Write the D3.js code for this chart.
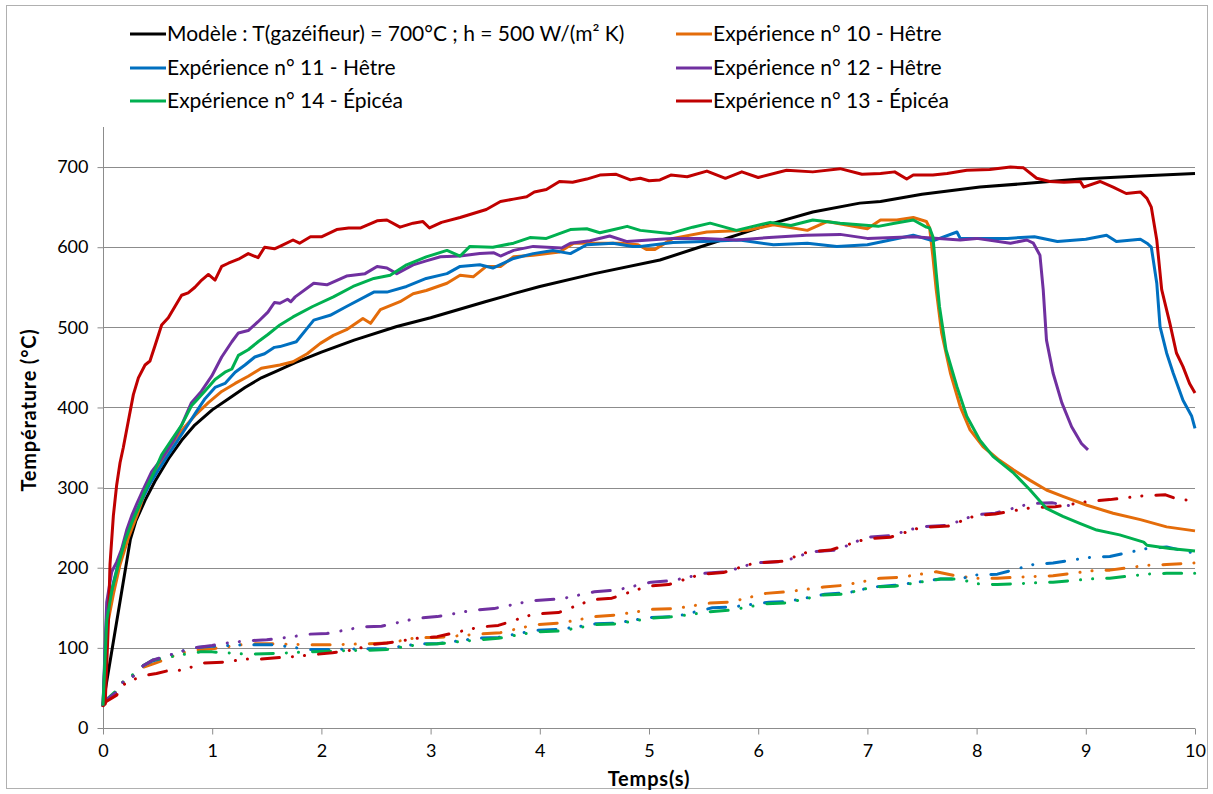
<!DOCTYPE html>
<html>
<head>
<meta charset="utf-8">
<script src="https://cdn.jsdelivr.net/npm/d3@7"></script>
<style>
  html, body { margin: 0; padding: 0; background: #fff; }
  svg { display: block; }
  text { font-family: Lato, "Open Sans", "DejaVu Sans", sans-serif; fill: #000; }
</style>
</head>
<body>
<svg id="chart" width="1213" height="794"></svg>
<script>
// ---------------- DATA ----------------
const xTicks = [0,1,2,3,4,5,6,7,8,9,10];
const yTicks = [0,100,200,300,400,500,600,700];

const legendLabels = [
  "Modèle : T(gazéifieur) = 700°C ; h = 500 W/(m² K)",
  "Expérience n° 10 - Hêtre",
  "Expérience n° 11 - Hêtre",
  "Expérience n° 12 - Hêtre",
  "Expérience n° 14 - Épicéa",
  "Expérience n° 13 - Épicéa"
];

// Model curve [time s, temperature °C]
const model = [[0,30],[0.25,235],[0.3,258],[0.385,284],[0.476,308],[0.6,336],[0.72,359],[0.84,378],[1.0,397],[1.15,411],[1.3,425],[1.45,437],[1.6,446],[1.76,456],[2.0,469],[2.3,484],[2.69,501],[3.0,512],[3.5,532],[3.76,542],[4.0,551],[4.5,567],[5.1,584],[5.53,603],[6.14,630],[6.5,644],[6.93,655],[7.12,657],[7.5,666],[8.03,675],[8.5,680],[8.95,685],[9.5,689],[10,692]];

// Experiment 10 (Hêtre) - upper curve
const exp10 = [[0,28],[0.034,124],[0.095,167],[0.156,204],[0.232,237],[0.31,265],[0.385,294],[0.476,317],[0.568,341],[0.66,360],[0.75,376],[0.842,390],[0.965,406],[1.087,420],[1.21,430],[1.33,439],[1.45,449],[1.62,453],[1.74,457],[1.87,467],[1.99,480],[2.11,490],[2.23,497],[2.38,511],[2.45,505],[2.54,522],[2.72,532],[2.84,542],[2.96,546],[3.15,555],[3.27,565],[3.39,563],[3.51,576],[3.64,576],[3.76,588],[3.94,590],[4.18,594],[4.31,605],[4.55,605],[4.74,605],[4.9,603],[4.98,597],[5.05,597],[5.22,611],[5.53,619],[5.9,621],[6.14,628],[6.45,621],[6.63,632],[7.0,623],[7.12,634],[7.27,634],[7.42,637],[7.54,632],[7.57,624],[7.6,588],[7.63,547],[7.68,493],[7.76,443],[7.85,401],[7.94,372],[8.06,351],[8.21,334],[8.34,322],[8.49,309],[8.64,297],[8.79,289],[9.01,278],[9.25,268],[9.5,260],[9.74,251],[10,246]];

// Experiment 11 (Hêtre) - upper curve
const exp11 = [[0,28],[0.034,143],[0.095,181],[0.156,214],[0.217,242],[0.278,263],[0.354,284],[0.43,305],[0.507,322],[0.583,338],[0.675,357],[0.766,376],[0.842,392],[0.934,411],[1.026,425],[1.117,430],[1.21,444],[1.3,453],[1.39,463],[1.48,467],[1.57,475],[1.62,476],[1.77,482],[1.93,509],[2.08,515],[2.23,526],[2.48,544],[2.6,544],[2.78,551],[2.96,561],[3.15,567],[3.27,576],[3.45,578],[3.57,574],[3.76,586],[3.94,592],[4.12,596],[4.28,592],[4.43,603],[4.67,605],[4.85,601],[4.92,601],[5.22,606],[5.5,607],[5.83,609],[6.14,603],[6.45,605],[6.72,601],[7.0,603],[7.42,615],[7.6,608],[7.82,619],[7.85,611],[8.28,611],[8.53,613],[8.74,607],[9.0,610],[9.19,615],[9.28,607],[9.5,610],[9.56,605],[9.6,600],[9.65,555],[9.68,501],[9.74,468],[9.8,443],[9.89,409],[9.97,389],[10,374]];

// Experiment 12 (Hêtre) - upper curve
const exp12 = [[0,28],[0.034,157],[0.08,195],[0.125,207],[0.17,223],[0.217,247],[0.263,265],[0.31,280],[0.37,298],[0.446,320],[0.537,336],[0.63,355],[0.72,378],[0.81,406],[0.9,420],[0.995,439],[1.087,463],[1.18,482],[1.24,493],[1.33,496],[1.42,507],[1.51,519],[1.57,531],[1.62,530],[1.69,535],[1.72,532],[1.76,538],[1.93,555],[2.05,553],[2.23,564],[2.4,567],[2.51,576],[2.6,574],[2.69,567],[2.84,578],[2.96,583],[3.09,588],[3.27,589],[3.45,592],[3.58,593],[3.64,589],[3.76,596],[3.94,601],[4.2,599],[4.28,605],[4.46,608],[4.64,614],[4.8,607],[5.1,610],[5.22,611],[5.5,611],[5.8,609],[6.1,612],[6.44,615],[6.75,616],[7.0,611],[7.42,613],[7.85,609],[8.0,611],[8.31,605],[8.46,609],[8.52,605],[8.58,590],[8.61,547],[8.64,484],[8.70,443],[8.78,406],[8.87,376],[8.96,355],[9.02,347]];

// Experiment 13 (Épicéa) - upper curve
const exp13 = [[0,28],[0.02,30],[0.05,134],[0.064,204],[0.095,265],[0.125,303],[0.156,331],[0.186,350],[0.232,383],[0.278,416],[0.324,437],[0.385,453],[0.43,458],[0.476,477],[0.537,503],[0.598,512],[0.659,526],[0.72,540],[0.78,543],[0.842,550],[0.904,559],[0.965,566],[1.026,559],[1.087,576],[1.148,580],[1.24,585],[1.33,592],[1.42,587],[1.48,600],[1.57,598],[1.62,601],[1.74,609],[1.8,605],[1.9,613],[2.0,613],[2.14,622],[2.25,624],[2.36,624],[2.51,633],[2.6,634],[2.72,625],[2.84,630],[2.93,632],[2.99,624],[3.1,631],[3.27,637],[3.39,642],[3.51,647],[3.64,657],[3.76,660],[3.88,663],[3.95,669],[4.06,672],[4.18,682],[4.3,681],[4.43,685],[4.55,690],[4.7,691],[4.83,684],[4.92,686],[5.0,683],[5.1,684],[5.2,690],[5.35,688],[5.53,695],[5.7,686],[5.85,694],[6.0,687],[6.26,696],[6.5,694],[6.75,698],[6.95,691],[7.12,692],[7.25,694],[7.36,685],[7.42,690],[7.6,690],[7.73,692],[7.91,696],[8.12,697],[8.31,700],[8.43,699],[8.55,686],[8.67,682],[8.8,681],[8.95,682],[8.98,675],[9.13,682],[9.25,675],[9.37,667],[9.5,669],[9.56,661],[9.6,650],[9.65,609],[9.695,547],[9.77,505],[9.83,468],[9.89,451],[9.95,430],[10,418]];

// Experiment 14 (Épicéa) - upper curve
const exp14 = [[0,28],[0.034,134],[0.08,171],[0.14,204],[0.2,233],[0.263,256],[0.324,275],[0.385,296],[0.46,317],[0.537,341],[0.63,360],[0.72,378],[0.81,402],[0.87,411],[0.93,420],[1.026,435],[1.117,444],[1.18,448],[1.24,465],[1.33,472],[1.42,482],[1.51,491],[1.62,503],[1.74,513],[1.92,526],[2.11,538],[2.29,551],[2.48,561],[2.63,565],[2.78,578],[2.96,588],[3.15,596],[3.27,589],[3.36,601],[3.57,600],[3.76,605],[3.91,612],[4.06,611],[4.28,622],[4.43,623],[4.55,618],[4.68,622],[4.8,626],[4.92,621],[5.19,617],[5.4,625],[5.56,630],[5.8,621],[6.11,631],[6.3,627],[6.5,634],[6.75,630],[7.1,626],[7.25,630],[7.42,634],[7.54,625],[7.57,624],[7.6,613],[7.63,568],[7.66,526],[7.72,472],[7.82,426],[7.91,389],[8.03,359],[8.15,339],[8.34,318],[8.49,297],[8.64,274],[8.79,264],[8.95,255],[9.1,247],[9.31,241],[9.53,232],[9.56,228],[9.77,224],[10,221]];

// Lower (second thermocouple) curves, not in legend
const exp10Low = [[0,28],[0.03,35],[0.125,45],[0.186,58],[0.278,65],[0.37,76],[0.46,80],[0.54,84],[0.7,93],[0.83,97],[1.0,99],[1.33,105],[1.56,105],[1.88,104],[2.1,104],[2.41,105],[2.62,106],[2.88,113],[3.06,113],[3.43,117],[3.64,119],[3.96,129],[4.19,131],[4.51,139],[4.7,141],[5.02,148],[5.24,149],[5.56,156],[5.74,157],[6.07,168],[6.27,170],[6.6,176],[6.78,178],[7.12,187],[7.3,188],[7.63,195],[7.81,190],[7.99,187],[8.19,187],[8.52,189],[8.7,190],[9.04,196],[9.22,197],[9.56,203],[9.74,204],[10,206]];
const exp11Low = [[0,28],[0.03,35],[0.125,45],[0.186,58],[0.278,65],[0.37,78],[0.46,84],[0.54,87],[0.7,95],[0.83,100],[1.0,102],[1.33,104],[1.56,104],[1.88,98],[2.1,98],[2.41,99],[2.6,99],[2.88,105],[3.06,105],[3.43,112],[3.62,113],[3.96,122],[4.19,123],[4.51,130],[4.7,131],[5.02,138],[5.24,139],[5.58,150],[5.76,151],[6.1,157],[6.28,158],[6.61,167],[6.83,169],[7.05,176],[7.25,178],[7.67,186],[7.85,186],[7.99,191],[8.19,192],[8.52,204],[8.7,206],[9.04,213],[9.22,214],[9.56,224],[9.74,226],[10,218]];
const exp12Low = [[0,28],[0.03,35],[0.125,45],[0.186,58],[0.278,65],[0.37,78],[0.46,85],[0.54,88],[0.7,95],[0.83,100],[1.0,103],[1.13,106],[1.33,109],[1.5,110],[1.74,114],[1.87,117],[2.05,118],[2.25,123],[2.36,126],[2.55,127],[2.88,137],[3.06,139],[3.39,147],[3.58,149],[3.93,159],[4.19,161],[4.5,170],[4.7,172],[5.02,182],[5.22,184],[5.51,193],[5.71,195],[5.97,206],[6.24,208],[6.49,220],[6.72,222],[6.99,238],[7.21,240],[7.48,251],[7.74,253],[7.99,266],[8.17,268],[8.49,280],[8.69,281],[8.92,276]];
const exp13Low = [[0,28],[0.03,33],[0.125,41],[0.186,54],[0.29,61],[0.4,66],[0.49,68],[0.58,71],[0.7,72],[0.81,76],[0.92,81],[1.1,82],[1.2,84],[1.32,86],[1.45,86],[1.62,88],[1.75,89],[1.96,92],[2.1,94],[2.32,98],[2.44,104],[2.6,106],[2.88,112],[3.06,114],[3.45,126],[3.62,128],[3.94,142],[4.17,144],[4.48,160],[4.66,162],[4.99,177],[5.18,179],[5.48,192],[5.68,194],[5.97,206],[6.22,208],[6.46,220],[6.66,222],[6.99,236],[7.21,238],[7.48,250],[7.74,252],[7.99,265],[8.17,267],[8.5,275],[8.72,276],[9.04,283],[9.22,285],[9.54,290],[9.73,291],[9.85,285],[10,284]];
const exp14Low = [[0,28],[0.03,35],[0.125,47],[0.186,58],[0.278,67],[0.37,78],[0.46,85],[0.54,87],[0.7,91],[0.89,95],[1.0,95],[1.33,92],[1.56,93],[1.88,95],[2.1,96],[2.41,97],[2.6,98],[2.88,104],[3.06,105],[3.43,110],[3.62,112],[3.96,120],[4.19,121],[4.51,129],[4.7,130],[5.02,137],[5.24,139],[5.55,145],[5.74,147],[6.07,155],[6.26,156],[6.59,166],[6.78,167],[7.05,176],[7.25,177],[7.67,186],[7.85,186],[7.99,180],[8.19,179],[8.52,181],[8.7,182],[9.04,186],[9.22,187],[9.56,192],[9.74,193],[10,193]];

const colors = {
  model: "#000000", e10: "#E46C0A", e11: "#0070C0", e12: "#7030A0", e13: "#C00000", e14: "#00B050"
};

// ---------------- CHART ----------------
const svg = d3.select("#chart");

// outer frame
svg.append("rect").attr("x", 6.5).attr("y", 5.5).attr("width", 1201).attr("height", 783)
  .attr("fill", "#fff").attr("stroke", "#b0b0b0").attr("stroke-width", 1);

const x = d3.scaleLinear().domain([0, 10]).range([103, 1195]);
const y = d3.scaleLinear().domain([0, 750]).range([728, 127]);

// gridlines
svg.append("g").selectAll("line").data(yTicks.filter(d => d > 0)).join("line")
  .attr("x1", x(0)).attr("x2", x(10))
  .attr("y1", d => Math.round(y(d)) + 0.5).attr("y2", d => Math.round(y(d)) + 0.5)
  .attr("stroke", "#8c8c8c").attr("stroke-width", 1);

// axes
const yAxis = d3.axisLeft(y).tickValues(yTicks).tickSize(6).tickPadding(9).tickFormat(d3.format("d"));
const gy = svg.append("g").attr("transform", `translate(${x(0) + 0.5},0)`).call(yAxis);
gy.select(".domain").attr("stroke", "#8c8c8c").attr("d", `M-0,${y(750)}V${y(0)}`);
gy.selectAll(".tick line").attr("stroke", "#8c8c8c");
gy.selectAll(".tick text").attr("font-size", 18).style("font-family", "Lato, sans-serif");

const xAxis = d3.axisBottom(x).tickValues(xTicks).tickSize(6).tickPadding(10).tickFormat(d3.format("d"));
const gx = svg.append("g").attr("transform", `translate(0,${Math.round(y(0)) + 0.5})`).call(xAxis);
gx.select(".domain").attr("stroke", "#8c8c8c").attr("d", `M${x(0)},0H${x(10)}`);
gx.selectAll(".tick line").attr("stroke", "#8c8c8c");
gx.selectAll(".tick text").attr("font-size", 18).style("font-family", "Lato, sans-serif");

// axis titles
svg.append("text").attr("x", 649).attr("y", 786).attr("text-anchor", "middle")
  .attr("font-size", 20).attr("font-weight", "bold").attr("letter-spacing", 0.8).text("Temps(s)");
svg.append("text").attr("transform", "translate(36,410) rotate(-90)").attr("text-anchor", "middle")
  .attr("font-size", 20).attr("font-weight", "bold").attr("letter-spacing", 0.8).text("Température (°C)");

const line = d3.line().x(d => x(d[0])).y(d => y(d[1]));

// lower dashed curves
const lowers = [
  [exp10Low, colors.e10], [exp11Low, colors.e11], [exp14Low, colors.e14],
  [exp12Low, colors.e12], [exp13Low, colors.e13]
];
svg.append("g").selectAll("path").data(lowers).join("path")
  .attr("d", d => line(d[0]))
  .attr("fill", "none").attr("stroke", d => d[1]).attr("stroke-width", 3)
  .attr("stroke-linecap", "round").attr("stroke-linejoin", "round")
  .attr("stroke-dasharray", "18 13 0.1 12 0.1 14");

// upper solid curves
const uppers = [
  [model, colors.model], [exp10, colors.e10], [exp11, colors.e11],
  [exp12, colors.e12], [exp13, colors.e13], [exp14, colors.e14]
];
svg.append("g").selectAll("path").data(uppers).join("path")
  .attr("d", d => line(d[0]))
  .attr("fill", "none").attr("stroke", d => d[1]).attr("stroke-width", 3)
  .attr("stroke-linejoin", "round");

// legend
const legendItems = [
  { label: legendLabels[0], color: colors.model, lx: 130, ly: 34 },
  { label: legendLabels[1], color: colors.e10, lx: 676, ly: 34 },
  { label: legendLabels[2], color: colors.e11, lx: 130, ly: 68 },
  { label: legendLabels[3], color: colors.e12, lx: 676, ly: 68 },
  { label: legendLabels[4], color: colors.e14, lx: 130, ly: 101 },
  { label: legendLabels[5], color: colors.e13, lx: 676, ly: 101 }
];
const lg = svg.append("g").selectAll("g").data(legendItems).join("g")
  .attr("transform", d => `translate(${d.lx},${d.ly})`);
lg.append("line").attr("x1", 0).attr("x2", 36).attr("y1", 0).attr("y2", 0)
  .attr("stroke", d => d.color).attr("stroke-width", 3);
lg.append("text").attr("x", 37).attr("y", 7).attr("font-size", 21).text(d => d.label);
</script>
</body>
</html>
